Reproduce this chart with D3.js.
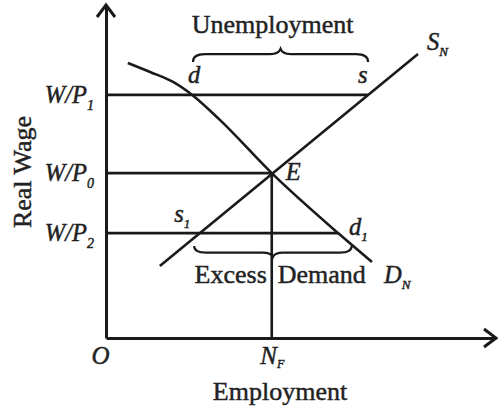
<!DOCTYPE html>
<meta charset="utf-8">
<script src="https://d3js.org/d3.v7.min.js"></script>
<style>
  body { margin: 0; background: #fff; }
</style>
<div id="chart"></div>
<script>

// Wage levels (0-100 units) and where each line stops
var wageNames  = ["W/P", "W/P", "W/P"]
var wageSubs   = ["1", "0", "2"]
var wageValues = [73, 49.5, 31.5]
var wageEnds   = [67.2, 42.5, 59.5]

// Full employment level
var nF = 42.5

// Supply of labour S_N (straight line)
var supplyN = [13.8, 80]
var supplyW = [21.6, 85.3]

// Demand for labour D_N (curved at the top, then straight)
var demandN = [5.6, 11.3, 17.2, 22.1, 29.2, 42.5, 59.5, 68.2]
var demandW = [82.6, 79.9, 76.9, 73.0, 65.5, 49.5, 31.5, 22.8]

// Brace ranges in employment units
var unempRange  = [22.3, 67.2]
var excessRange = [22.6, 63]

var width = 498, height = 409
var serif = "'Liberation Serif', 'Times New Roman', 'DejaVu Serif', serif"
var textInk = "#222"

var svg = d3.select("#chart")
  .append("svg")
  .attr("width", width)
  .attr("height", height)
  .attr("font-family", serif)

svg.append("rect").attr("width", width).attr("height", height).attr("fill", "#fff")

var x = d3.scaleLinear().domain([0, 100]).range([106, 496])
var y = d3.scaleLinear().domain([0, 100]).range([338, 5])

var ink = "#1a1a1a"

// horizontal wage lines
svg.selectAll(".wage")
  .data(wageValues)
  .enter()
  .append("line")
    .attr("x1", x(0))
    .attr("x2", function(d, i){ return x(wageEnds[i]) })
    .attr("y1", function(d){ return y(d) })
    .attr("y2", function(d){ return y(d) })
    .attr("stroke", ink)
    .attr("stroke-width", 2.6)

// vertical line at N_F
svg.append("line")
  .attr("x1", x(nF)).attr("x2", x(nF))
  .attr("y1", y(0)).attr("y2", y(wageValues[1]))
  .attr("stroke", ink).attr("stroke-width", 2.6)

// supply curve
var line = d3.line().x(function(d){ return x(d[0]) }).y(function(d){ return y(d[1]) })
svg.append("path")
  .attr("d", line(d3.zip(supplyN, supplyW)))
  .attr("fill", "none").attr("stroke", ink).attr("stroke-width", 2.6)

// demand curve
svg.append("path")
  .attr("d", line.curve(d3.curveMonotoneX)(d3.zip(demandN, demandW)))
  .attr("fill", "none").attr("stroke", ink).attr("stroke-width", 2.6)

// axes
var yAxis = svg.append("g")
  .attr("transform", "translate(" + x(0) + ",0)")
  .call(d3.axisLeft(y).tickValues(wageValues).tickSize(0).tickPadding(12).tickFormat(""))
var xAxis = svg.append("g")
  .attr("transform", "translate(0," + y(0) + ")")
  .call(d3.axisBottom(x).tickValues([0, nF]).tickSize(0).tickPadding(8).tickFormat(""))

svg.selectAll("g").attr("font-family", serif)
svg.selectAll(".domain").attr("stroke", ink).attr("stroke-width", 3)

// heavier serif text, like the scanned print
function inked(t) {
  return t.attr("fill", textInk).attr("stroke", textInk).attr("stroke-width", 0.45)
}

// tick labels with subscripts
yAxis.selectAll(".tick text")
  .each(function(d, i){
    var t = inked(d3.select(this))
      .attr("font-size", 24.5)
      .attr("font-style", "italic")
      .attr("x", -12)
      .attr("dy", "0.3em")
    t.append("tspan").text(wageNames[i])
    t.append("tspan").attr("font-size", 14).attr("dy", 7).text(wageSubs[i])
  })

xAxis.selectAll(".tick text")
  .each(function(d, i){
    var t = inked(d3.select(this))
      .attr("font-size", 25)
      .attr("font-style", "italic")
    if (i == 0) {
      t.attr("x", -6).text("O")
    } else {
      t.append("tspan").text("N")
      t.append("tspan").attr("font-size", 12).attr("dy", 4).text("F")
    }
  })

// arrowheads
svg.append("path")
  .attr("d", "M" + (x(0) - 9) + "," + (y(100) + 12) + "L" + x(0) + "," + y(100) + "L" + (x(0) + 9) + "," + (y(100) + 12))
  .attr("fill", "none").attr("stroke", ink).attr("stroke-width", 3)
svg.append("path")
  .attr("d", "M" + (x(100) - 12) + "," + (y(0) - 9) + "L" + x(100) + "," + y(0) + "L" + (x(100) - 12) + "," + (y(0) + 9))
  .attr("fill", "none").attr("stroke", ink).attr("stroke-width", 3)

// curly brace between x1 and x2 at yb, h > 0 points up
function brace(x1, x2, yb, h) {
  var xm = (x1 + x2) / 2
  return "M" + x1 + "," + yb +
    "Q" + x1 + "," + (yb - h * 0.6) + " " + (x1 + 12) + "," + (yb - h * 0.6) +
    "L" + (xm - 10) + "," + (yb - h * 0.6) +
    "Q" + (xm - 2) + "," + (yb - h * 0.6) + " " + xm + "," + (yb - h) +
    "Q" + (xm + 2) + "," + (yb - h * 0.6) + " " + (xm + 10) + "," + (yb - h * 0.6) +
    "L" + (x2 - 12) + "," + (yb - h * 0.6) +
    "Q" + x2 + "," + (yb - h * 0.6) + " " + x2 + "," + yb
}

svg.append("path")
  .attr("d", brace(x(unempRange[0]), x(unempRange[1]), y(wageValues[0]) - 33, 13))
  .attr("fill", "none").attr("stroke", ink).attr("stroke-width", 2.2)
svg.append("path")
  .attr("d", brace(x(excessRange[0]), x(excessRange[1]), y(wageValues[2]) + 13, -11))
  .attr("fill", "none").attr("stroke", ink).attr("stroke-width", 2.2)

// text labels
function word(px, py, anchor, s) {
  return inked(svg.append("text"))
    .attr("x", px).attr("y", py)
    .attr("text-anchor", anchor).attr("font-size", 26)
    .text(s)
}

word(x((unempRange[0] + unempRange[1]) / 2) - 8, 33, "middle", "Unemployment")
word(x(nF) - 5, y(wageValues[2]) + 50, "end", "Excess")
word(x(nF) + 6, y(wageValues[2]) + 50, "start", "Demand")
word((x(0) + x(100)) / 2 - 21, 400, "middle", "Employment")
word(0, 0, "middle", "Real Wage")
  .attr("transform", "translate(31," + ((y(wageValues[0]) + y(wageValues[2])) / 2 + 8) + ") rotate(-90)")

// italic point labels
function label(px, py, main, sub) {
  var t = inked(svg.append("text")).attr("x", px).attr("y", py)
    .attr("font-size", 24.5).attr("font-style", "italic")
  t.append("tspan").text(main)
  if (sub) t.append("tspan").attr("font-size", 13).attr("dy", 6).text(sub)
}

label(x(unempRange[0]) - 5, y(wageValues[0]) - 12, "d")
label(x(wageEnds[0]) - 10, y(wageValues[0]) - 12, "s")
label(x(supplyN[1]) + 9, y(supplyW[1]) - 4, "S", "N")
label(x(nF) + 14, y(wageValues[1]) + 7, "E")
label(x(excessRange[0]) - 20, y(wageValues[2]) - 11, "s", "1")
label(x(wageEnds[2]) + 11, y(wageValues[2]) + 2, "d", "1")
label(x(demandN[7]) + 12, y(wageValues[2]) + 50, "D", "N")

</script>
